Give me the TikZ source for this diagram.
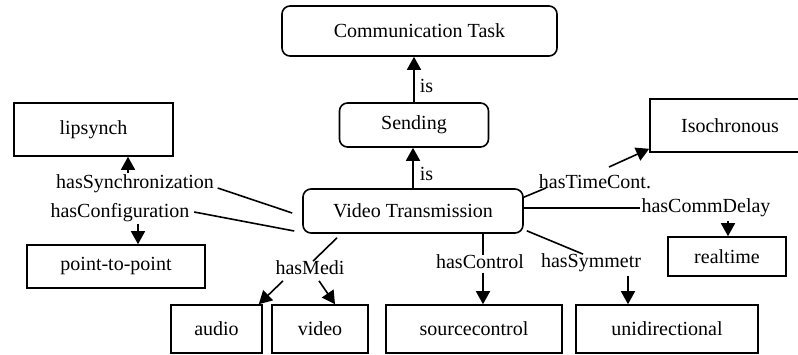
\documentclass[tikz,border=0pt]{standalone}
\usepackage{fontspec}
\setmainfont{Liberation Serif}
\usetikzlibrary{arrows.meta,calc,positioning}

\begin{document}
\begin{tikzpicture}[x=1pt, y=-1pt, >={Triangle[length=13pt,width=14pt]}, line width=1.6pt,
    font=\fontsize{20}{24}\selectfont,
    concept/.style={draw, rounded corners=8pt, inner sep=0pt},
    value/.style={draw, inner sep=0pt},
    rel/.style={inner sep=1pt}]
    \useasboundingbox (0,0) rectangle (798,354);
    % concepts
    \node[concept, minimum width=275pt, minimum height=50pt] (comm) at (419.5,31) {Communication Task};
    \node[concept, minimum width=149pt, minimum height=44pt] (send) at (414,125) {Sending};
    \node[concept, minimum width=220pt, minimum height=44pt] (vt) at (413,211) {Video Transmission};
    % values
    \node[value, minimum width=159pt, minimum height=53pt] (lip) at (93.5,129.5) {lipsynch};
    \node[value, minimum width=160pt, minimum height=53pt] (iso) at (730,125.5) {Isochronous};
    \node[value, minimum width=178pt, minimum height=43pt] (p2p) at (116,266.5) {point-to-point};
    \node[value, minimum width=118pt, minimum height=39pt] (rt) at (727,256.5) {realtime};
    \node[value, minimum width=91pt, minimum height=48pt] (audio) at (216.5,329) {audio};
    \node[value, minimum width=96pt, minimum height=48pt] (video) at (320,329) {video};
    \node[value, minimum width=176pt, minimum height=48pt] (sc) at (474,329) {sourcecontrol};
    \node[value, minimum width=182pt, minimum height=48pt] (uni) at (667,329) {unidirectional};
    % relations
    \node[rel] (sync) at (135,184) {hasSynchronization};
    \node[rel] (conf) at (120,213) {hasConfiguration};
    \node[rel] (medi) at (310,268) {hasMedi};
    \node[rel] (ctrl) at (480,262) {hasControl};
    \node[rel] (sym) at (591,263) {hasSymmetr};
    \node[rel] (timec) at (595,182) {hasTimeCont.};
    \node[rel] (delay) at (706,208) {hasCommDelay};

    \draw [->] (send.north) -- (send.north |- comm.south) node[pos=0.35, right, inner sep=5pt](is1){is};
    \draw [->] (vt.north) -- (vt.north |- send.south) node[pos=0.35, right, inner sep=6pt](is2){is};

    \draw ($(sync.east)+(2,4)$) -- ($(vt.west)+(-10,2)$);
    \draw [->] ($(sync.north)+(-7,0)$) -- ($(lip.south)+(34.5,0)$);
    \draw ($(conf.east)+(3,-1)$) -- ($(vt.west)+(-8,20)$);
    \draw [->] ($(conf.south)+(18,0)$) -- ($(p2p.north)+(22,0)$);

    \draw ($(vt.south)+(-76,4)$) -- ($(medi.north)+(3,2)$);
    \draw [->] ($(medi.south)+(-27,4)$) -- ($(audio.north east)+(-4,0)$);
    \draw [->] ($(medi.south)+(9,4)$) -- ($(video.north)+(15,0)$);

    \draw ($(vt.south)+(70,0)$) -- ($(ctrl.north)+(3,2)$);
    \draw [->] ($(ctrl.south)+(3,2)$) -- ($(sc.north)+(9,0)$);

    \draw ($(vt.south east)+(3,-3)$) -- ($(sym.north)+(-8,2)$);
    \draw [->] ($(sym.south)+(37,2)$) -- ($(uni.north)+(-39,0)$);

    \draw ($(vt.north east)+(0,9)$) -- ($(timec)+(-49,6)$);
    \draw [->] ($(timec)+(14,-15)$) -- ($(iso.south west)+(0,-4)$);

    \draw (vt.east |- delay.west) -- (delay.west);
    \draw [->] ($(delay.south)+(22,2)$) -- ($(rt.north)+(1,0)$);
  \end{tikzpicture}
\end{document}
